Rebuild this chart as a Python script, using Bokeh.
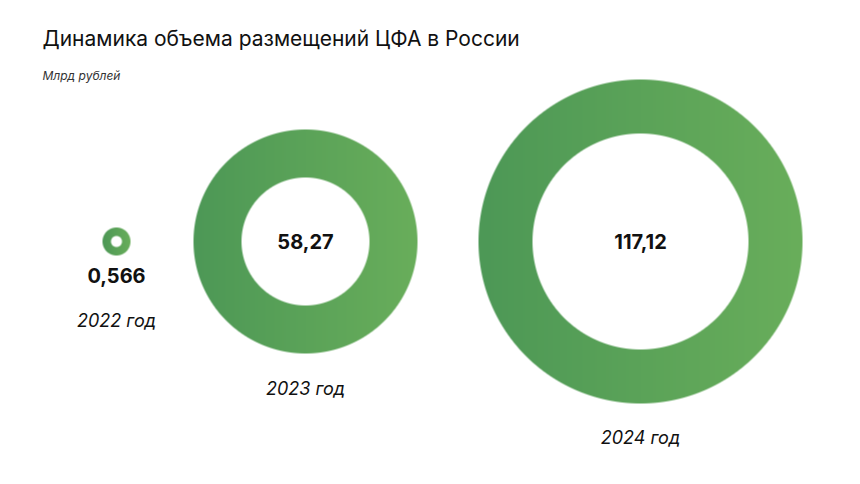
import numpy as np
from bokeh.plotting import figure
from bokeh.models import Range1d, ColumnDataSource, Label
from bokeh.core.properties import value
from bokeh.embed import file_html
from bokeh.resources import INLINE

# ---- data ----
years = ["2022 год", "2023 год", "2024 год"]
volumes = [0.566, 58.27, 117.12]          # млрд рублей
volume_labels = ["0,566", "58,27", "117,12"]

# ---- layout (pixels, top-left origin) ----
W, H = 860, 484
cx = [116, 305, 640]
cy_top = [241, 241, 241]
r_out = [14, 112, 162]
r_in = [5.5, 64, 108]
val_y_top = [275, 241, 241]
year_y_top = [320, 388, 437]

c_left = np.array([0x4d, 0x98, 0x56], dtype=float)
c_right = np.array([0x69, 0xae, 0x5b], dtype=float)

p = figure(width=W, height=H, output_backend="svg", toolbar_location=None,
           x_range=Range1d(0, W), y_range=Range1d(0, H), min_border=0)
p.axis.visible = False
p.grid.visible = False
p.outline_line_color = None
p.background_fill_color = "white"
p.border_fill_color = "white"

# donuts with horizontal gradient, drawn as RGBA images
for x0, y0, ro, ri in zip(cx, cy_top, r_out, r_in):
    S = int(np.ceil(ro)) * 2 + 4
    left = x0 - S / 2
    bottom = (H - y0) - S / 2
    xs = left + np.arange(S) + 0.5
    ys = bottom + np.arange(S) + 0.5
    X, Y = np.meshgrid(xs, ys)
    d = np.hypot(X - x0, Y - (H - y0))
    alpha = np.clip(ro - d + 0.5, 0, 1) * np.clip(d - ri + 0.5, 0, 1)
    t = np.clip((X - (x0 - ro)) / (2 * ro), 0, 1)
    img = np.zeros((S, S), dtype=np.uint32)
    view = img.view(dtype=np.uint8).reshape((S, S, 4))
    for k in range(3):
        view[:, :, k] = (c_left[k] + t * (c_right[k] - c_left[k])).astype(np.uint8)
    view[:, :, 3] = (alpha * 255).astype(np.uint8)
    p.image_rgba(image=[img], x=left, y=bottom, dw=S, dh=S)

# value labels
src_v = ColumnDataSource(dict(x=cx, y=[H - v for v in val_y_top], t=volume_labels))
p.text(x="x", y="y", text="t", source=src_v, text_align="center", text_baseline="middle",
       text_font=value("Inter"), text_font_style="bold", text_font_size="20px",
       text_color="#111111")

# year labels
src_y = ColumnDataSource(dict(x=cx, y=[H - v for v in year_y_top], t=years))
p.text(x="x", y="y", text="t", source=src_y, text_align="center", text_baseline="middle",
       text_font=value("Inter"), text_font_style="italic", text_font_size="18px",
       text_color="#111111")

# title & subtitle
p.add_layout(Label(x=42, y=H - 38, x_units="screen", y_units="screen",
                   text="Динамика объема размещений ЦФА в России",
                   text_font="Inter", text_font_size="21px", text_color="#111111",
                   text_baseline="middle", text_align="left"))
p.add_layout(Label(x=42, y=H - 75, x_units="screen", y_units="screen",
                   text="Млрд рублей", text_font="Inter", text_font_style="italic",
                   text_font_size="12px", text_color="#333333",
                   text_baseline="middle", text_align="left"))

open("out.html", "w").write(file_html(p, INLINE))
